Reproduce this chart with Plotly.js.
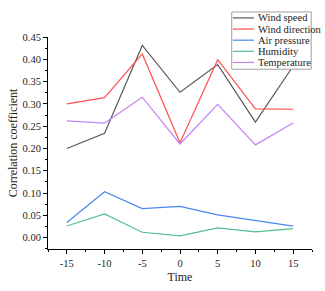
<!DOCTYPE html>
<html>
<head>
<meta charset="utf-8">
<script src="https://cdn.plot.ly/plotly-3.0.1.min.js"></script>
<style>html,body{margin:0;padding:0;background:#fff;}#chart{width:325px;height:291px;}</style>
</head>
<body>
<div id="chart"></div>
<script>
var timeLags = [-15, -10, -5, 0, 5, 10, 15];
var windSpeed = [0.200, 0.234, 0.431, 0.326, 0.388, 0.259, 0.385];
var windDirection = [0.300, 0.314, 0.412, 0.213, 0.399, 0.289, 0.288];
var airPressure = [0.034, 0.103, 0.065, 0.070, 0.051, 0.039, 0.026];
var humidity = [0.026, 0.053, 0.012, 0.004, 0.022, 0.013, 0.020];
var temperature = [0.262, 0.257, 0.315, 0.210, 0.299, 0.208, 0.257];
var seriesNames = ["Wind speed", "Wind direction", "Air pressure", "Humidity", "Temperature"];
var seriesColors = ["#5a5a5a", "#ff4f4f", "#4a88f0", "#4fc08c", "#c584f5"];
var seriesData = [windSpeed, windDirection, airPressure, humidity, temperature];

var traces = seriesData.map(function (ys, i) {
  return {
    x: timeLags, y: ys, type: "scatter", mode: "lines",
    name: seriesNames[i],
    line: {color: seriesColors[i], width: 1.2}
  };
});

var fam = "'Liberation Serif', 'Times New Roman', serif";
var font = {family: fam, size: 10, color: "#222"};

// custom compact legend (paper coordinates)
var legX0 = 0.696, legX1 = 0.997, legYTop = 1.118, legYBot = 0.848;
var itemY0 = 1.090, itemStep = 0.0525;
var shapes = [{
  type: "rect", xref: "paper", yref: "paper", layer: "above",
  x0: legX0, x1: legX1, y0: legYBot, y1: legYTop,
  fillcolor: "#fff", line: {color: "#a0a0a0", width: 1}
}];
var annotations = [];
seriesNames.forEach(function (nm, i) {
  var yy = itemY0 - i * itemStep;
  shapes.push({
    type: "line", xref: "paper", yref: "paper", layer: "above",
    x0: 0.7, x1: 0.78, y0: yy, y1: yy,
    line: {color: seriesColors[i], width: 1.2}
  });
  annotations.push({
    xref: "paper", yref: "paper", x: 0.786, y: yy, xanchor: "left", yanchor: "middle",
    text: nm, showarrow: false, font: {family: fam, size: 10.5, color: "#222"}
  });
});

var layout = {
  width: 325, height: 291,
  margin: {l: 48, r: 13, t: 37, b: 42},
  paper_bgcolor: "#fff", plot_bgcolor: "#fff",
  font: font,
  showlegend: false,
  shapes: shapes,
  annotations: annotations,
  xaxis: {
    range: [-17.5, 17.5], tickvals: timeLags, ticktext: timeLags.map(String),
    showgrid: false, zeroline: false, showline: true, linecolor: "#000", linewidth: 1,
    ticks: "outside", ticklen: 4, tickcolor: "#000",
    minor: {tickvals: [-17.5, -12.5, -7.5, -2.5, 2.5, 7.5, 12.5, 17.5], ticks: "outside", ticklen: 2, tickcolor: "#000"},
    title: {text: "Time", font: {family: fam, size: 12, color: "#222"}, standoff: 5},
    tickfont: {family: fam, size: 10.5, color: "#222"}
  },
  yaxis: {
    range: [-0.0255, 0.45], tickvals: [0, 0.05, 0.1, 0.15, 0.2, 0.25, 0.3, 0.35, 0.4, 0.45],
    tickformat: ".2f",
    showgrid: false, zeroline: false, showline: true, linecolor: "#000", linewidth: 1,
    ticks: "outside", ticklen: 4, tickcolor: "#000",
    minor: {dtick: 0.025, tick0: 0, ticks: "outside", ticklen: 2, tickcolor: "#000"},
    title: {text: "Correlation coefficient", font: {family: fam, size: 12, color: "#222"}, standoff: 2},
    tickfont: {family: fam, size: 10.5, color: "#222"}
  }
};
Plotly.newPlot("chart", traces, layout, {displayModeBar: false, staticPlot: true});
</script>
</body>
</html>
